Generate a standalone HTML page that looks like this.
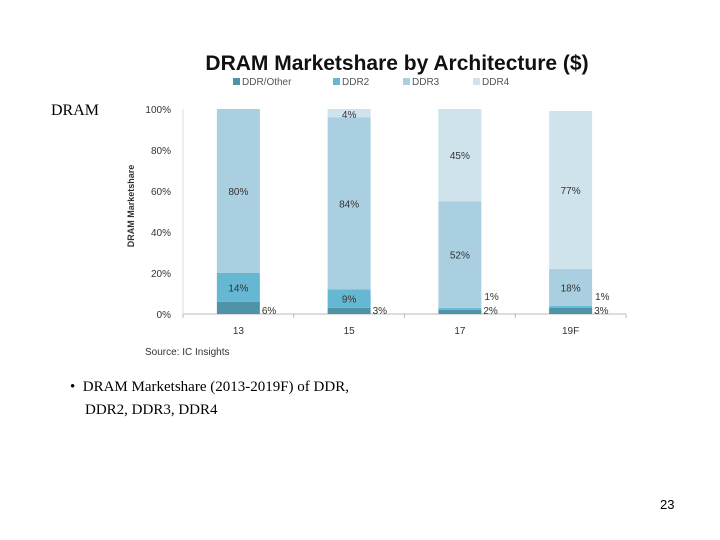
<!DOCTYPE html>
<html><head><meta charset="utf-8"><style>
body{margin:0;width:720px;height:540px;background:#fff;position:relative;overflow:hidden;font-family:"Liberation Sans",sans-serif}
.t{position:absolute;white-space:nowrap}
</style></head><body>
<div class="t" style="left:51px;top:102px;font:16px 'Liberation Serif',serif">DRAM</div>
<svg width="720" height="540" style="position:absolute;left:0;top:0">
<text x="397" y="70" text-anchor="middle" font-size="21" font-weight="bold" fill="#111">DRAM Marketshare by Architecture ($)</text>
<g id="legend" font-size="10" fill="#555"></g>
<g id="axes" font-size="10" fill="#333"></g>
<g id="bars"></g>
<text transform="translate(134,206) rotate(-90)" text-anchor="middle" font-size="9" font-weight="bold" fill="#333">DRAM Marketshare</text>
<text x="145" y="355" font-size="10" fill="#333">Source:  IC Insights</text>
</svg>
<div class="t" style="left:70px;top:376px;font:15px 'Liberation Serif',serif;line-height:23px">• &nbsp;DRAM Marketshare (2013-2019F) of DDR,<br>&nbsp;&nbsp;&nbsp;&nbsp;DDR2, DDR3, DDR4</div>
<div class="t" style="left:660px;top:497px;font-size:13px">23</div>
<script>
const categories=["13","15","17","19F"];
const seriesNames=["DDR/Other","DDR2","DDR3","DDR4"];
const ddrOther=[6,3,2,3];
const ddr2=[14,9,1,1];
const ddr3=[80,84,52,18];
const ddr4=[0,4,45,77];
const yTicks=[0,20,40,60,80,100];
const colors=["#4f93a6","#66b7d2","#a9cfe0","#cfe3ed"];
const NS="http://www.w3.org/2000/svg";
const x0=183,x1=626,y0=314,y1=109;
const band=(x1-x0)/categories.length,bw=43;
const y=v=>y0-(v/100)*(y0-y1);
const xc=i=>x0+band*(i+0.5);
function mk(tag,at,par){const e=document.createElementNS(NS,tag);for(const k in at)e.setAttribute(k,at[k]);par.appendChild(e);return e;}
const ax=document.getElementById('axes'),bg=document.getElementById('bars'),lg=document.getElementById('legend');
const lx=[233,333,403,473];
seriesNames.forEach((n,i)=>{
 const r=mk('rect',{x:lx[i],y:78,width:7,height:7,fill:colors[i]},lg);
 
 
 const t=mk('text',{x:lx[i]+9,y:85},lg);t.textContent=n;
 
 
});
const al=mk('line',{x1:x0,y1:y0,x2:x1,y2:y0,stroke:'#bbb'},ax);


mk('line',{x1:x0,y1:y0,x2:x0,y2:y1,stroke:'#ddd'},ax);
yTicks.forEach(v=>{
 const t=mk('text',{x:x0-12,y:y(v)+4,'text-anchor':'end'},ax);t.textContent=v+'%';
 
 
});
for(let i=0;i<=categories.length;i++)mk('line',{x1:x0+band*i,y1:y0,x2:x0+band*i,y2:y0+4,stroke:'#bbb'},ax);
const series=[ddrOther,ddr2,ddr3,ddr4];
categories.forEach((c,i)=>{
 const t=mk('text',{x:xc(i),y:y0+20,'text-anchor':'middle'},ax);t.textContent=c;
 
 
 let acc=0;
 series.forEach((s,j)=>{
  const v=s[i];if(v<=0)return;
  const r=mk('rect',{x:xc(i)-bw/2,y:y(acc+v),width:bw,height:y(acc)-y(acc+v),fill:colors[j]},bg);
  
  
  let lxp=xc(i),lyp=y(acc+v/2)+4,anchor='middle';
  if(j==0){lxp=xc(i)+bw/2+2;anchor='start';lyp=y0;}
  else if(v<5&&j==1){lxp=xc(i)+bw/2+3;anchor='start';lyp=y0-14;}
  else if(j==3&&v<5){lyp=y(100)+9;}
  acc+=v;
  const lt=mk('text',{x:lxp,y:lyp,'text-anchor':anchor,'font-size':10,fill:'#333'},bg);
  lt.textContent=v+'%';
  
  
 });
});
</script>
</body></html>
